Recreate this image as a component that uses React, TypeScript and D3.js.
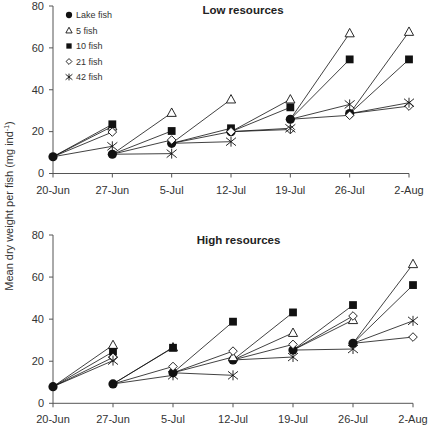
import React from "react";
import * as d3 from "d3";

const dates = ["20-Jun", "27-Jun", "5-Jul", "12-Jul", "19-Jul", "26-Jul", "2-Aug"];
const yTicks = [0, 20, 40, 60, 80];

// Low resources panel
const lakeLow = [8.0, 9.2, 14.4, 20.0, 25.9, 28.6];
const fish5Low = [null, 22.5, 29.0, 35.4, 35.4, 67.0, 67.7];
const fish10Low = [null, 23.5, 20.3, 21.6, 31.6, 54.5, 54.5];
const fish21Low = [null, 19.8, 16.0, 20.0, 21.0, 27.8, 32.2];
const fish42Low = [null, 13.0, 9.5, 15.2, 21.6, 33.0, 33.8];

// High resources panel
const lakeHigh = [7.9, 9.2, 14.5, 20.6, 25.3, 28.5];
const fish5High = [null, 27.7, 26.6, 22.0, 33.5, 39.6, 66.2];
const fish10High = [null, 24.5, 26.4, 38.8, 43.2, 46.7, 56.2];
const fish21High = [null, 21.8, 17.5, 24.8, 28.0, 41.5, 31.5];
const fish42High = [null, 20.3, 13.3, 13.3, 22.0, 25.8, 39.2];

const seriesNames = ["Lake fish", "5 fish", "10 fish", "21 fish", "42 fish"];
const markerKinds = ["circle", "triangle", "square", "diamond", "star"];

const FONT = "'Liberation Sans', Arial, sans-serif";
const AXIS = "#555";
const TEXT = "#333";

function Marker({ kind, x, y, s = 1 }: { kind: string; x: number; y: number; s?: number }) {
  if (kind === "circle") return <circle cx={x} cy={y} r={4.6 * s} fill="#111" />;
  if (kind === "square") {
    const h = 3.9 * s;
    return <rect x={x - h} y={y - h} width={2 * h} height={2 * h} fill="#111" />;
  }
  if (kind === "triangle") {
    const w = 4.6 * s;
    const pts = `${x},${y - 4.8 * s} ${x + w},${y + 3.6 * s} ${x - w},${y + 3.6 * s}`;
    return <polygon points={pts} fill="#fff" stroke="#111" strokeWidth={0.9} />;
  }
  if (kind === "diamond") {
    const r = 4.3 * s;
    const pts = `${x},${y - r} ${x + r},${y} ${x},${y + r} ${x - r},${y}`;
    return <polygon points={pts} fill="#fff" stroke="#111" strokeWidth={0.9} />;
  }
  const r = 5 * s;
  const d = `M${x},${y - r}L${x},${y + r}M${x - r},${y - 0.8 * r}L${x + r},${y + 0.8 * r}M${x - r},${y + 0.8 * r}L${x + r},${y - 0.8 * r}`;
  return <path d={d} stroke="#111" strokeWidth={0.9} fill="none" />;
}

function Panel({
  top,
  bottom,
  right,
  title,
  titleX,
  titleY,
  lake,
  treatments,
  legend,
}: {
  top: number;
  bottom: number;
  right: number;
  title: string;
  titleX: number;
  titleY: number;
  lake: number[];
  treatments: (number | null)[][];
  legend: boolean;
}) {
  const x = d3.scalePoint<string>().domain(dates).range([53, right]).padding(0);
  const y = d3.scaleLinear().domain([0, 80]).range([bottom, top]);
  const lines: JSX.Element[] = [];
  for (let i = 1; i < dates.length; i++) {
    const lv = lake[i - 1];
    if (lv == null) continue;
    treatments.forEach((ser, k) => {
      const v = ser[i];
      if (v == null) return;
      lines.push(
        <line
          key={`l${i}-${k}`}
          x1={x(dates[i - 1])}
          y1={y(lv)}
          x2={x(dates[i])}
          y2={y(v)}
          stroke="#111"
          strokeWidth={0.8}
        />
      );
    });
  }
  const allSeries: (number | null)[][] = [lake, ...treatments];
  return (
    <g>
      <line x1={53} x2={53} y1={y(0)} y2={y(80)} stroke={AXIS} strokeWidth={1} />
      <line x1={53} x2={right} y1={y(0)} y2={y(0)} stroke={AXIS} strokeWidth={1} />
      {yTicks.map((t) => (
        <g key={`yt${t}`}>
          <line x1={49} x2={53} y1={y(t)} y2={y(t)} stroke={AXIS} strokeWidth={1} />
          <text x={44} y={y(t)} dy="0.35em" textAnchor="end" fontSize={11} fill={TEXT} fontFamily={FONT}>
            {t}
          </text>
        </g>
      ))}
      {dates.map((d) => (
        <g key={`xt${d}`}>
          <line x1={x(d)} x2={x(d)} y1={y(0)} y2={y(0) + 4} stroke={AXIS} strokeWidth={1} />
          <text x={x(d)} y={y(0) + 20} textAnchor="middle" fontSize={11} fill={TEXT} fontFamily={FONT}>
            {d}
          </text>
        </g>
      ))}
      <text x={titleX} y={titleY} textAnchor="middle" fontSize={11.5} fontWeight="bold" fill="#222" fontFamily={FONT}>
        {title}
      </text>
      {lines}
      {allSeries.map((ser, k) =>
        ser.map((v, i) =>
          v == null ? null : <Marker key={`m${k}-${i}`} kind={markerKinds[k]} x={x(dates[i])!} y={y(v)} />
        )
      )}
      {legend &&
        seriesNames.map((n, k) => {
          const ly = 15 + k * 15.5;
          return (
            <g key={`lg${k}`}>
              <Marker kind={markerKinds[k]} x={69} y={ly} s={0.68} />
              <text x={76} y={ly} dy="0.35em" fontSize={9} fill={TEXT} fontFamily={FONT}>
                {n}
              </text>
            </g>
          );
        })}
    </g>
  );
}

export default function App() {
  return (
    <svg
      width={430}
      height={428}
      style={{ position: "absolute", left: 0, top: 0, background: "#fff" }}
    >
      <rect width={430} height={428} fill="#fff" />
      <Panel
        top={6}
        bottom={173.5}
        right={409}
        title="Low resources"
        titleX={243}
        titleY={13.5}
        lake={lakeLow}
        treatments={[fish5Low, fish10Low, fish21Low, fish42Low]}
        legend={true}
      />
      <Panel
        top={235}
        bottom={403.3}
        right={413}
        title="High resources"
        titleX={238.5}
        titleY={244}
        lake={lakeHigh}
        treatments={[fish5High, fish10High, fish21High, fish42High]}
        legend={false}
      />
      <text
        transform="translate(13,206) rotate(-90)"
        textAnchor="middle"
        fontSize={11}
        fill={TEXT}
        fontFamily={FONT}
      >
        Mean dry weight per fish (mg ind
        <tspan dy={-4} fontSize={7}>-1</tspan>
        <tspan dy={4}>)</tspan>
      </text>
    </svg>
  );
}
